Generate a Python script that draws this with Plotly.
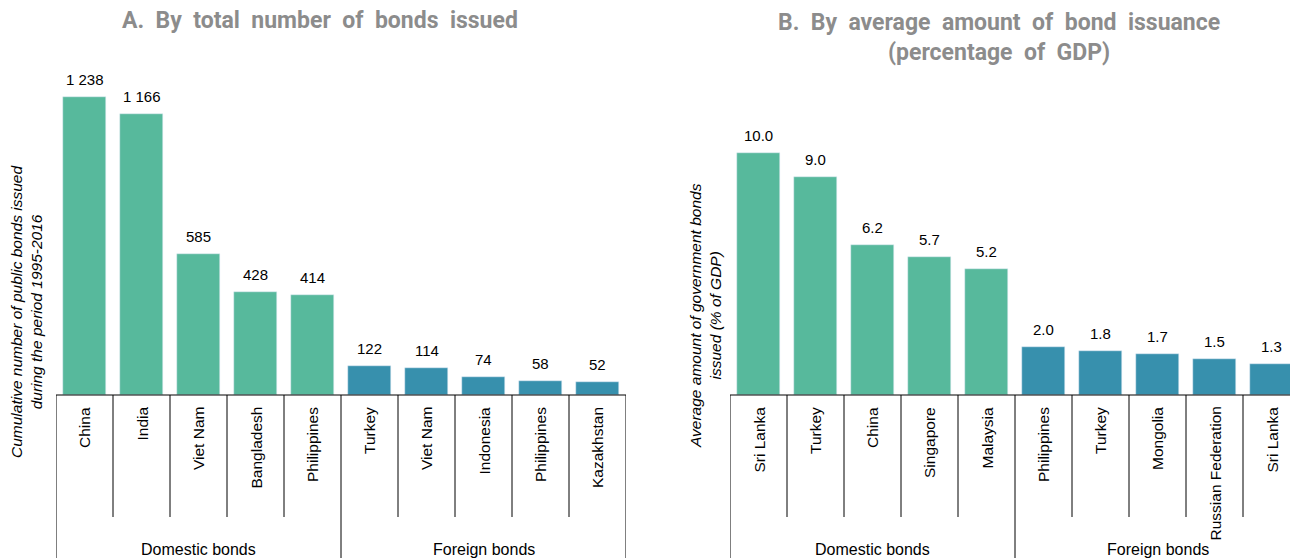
import plotly.graph_objects as go

# ---- data ----
a_countries = ["China", "India", "Viet Nam", "Bangladesh", "Philippines",
               "Turkey", "Viet Nam", "Indonesia", "Philippines", "Kazakhstan"]
a_values = [1238, 1166, 585, 428, 414, 122, 114, 74, 58, 52]
a_labels = ["1 238", "1 166", "585", "428", "414", "122", "114", "74", "58", "52"]

b_countries = ["Sri Lanka", "Turkey", "China", "Singapore", "Malaysia",
               "Philippines", "Turkey", "Mongolia", "Russian Federation", "Sri Lanka"]
b_values = [10.0, 9.0, 6.2, 5.7, 5.2, 2.0, 1.8, 1.7, 1.5, 1.3]
b_labels = ["10.0", "9.0", "6.2", "5.7", "5.2", "2.0", "1.8", "1.7", "1.5", "1.3"]

groups = ["Domestic bonds", "Foreign bonds"]
group_size = [5, 5]

# ---- layout constants (pixels) ----
W, H = 1290, 558
BASE_Y = 395          # baseline of the bars
CAT_W = 57            # width of one category slot
A_LEFT = 56
B_LEFT = 730
GREEN = "#57B99C"
TEAL = "#3790AD"
GREY_TITLE = "#8C8C8C"
TXT_FONT = "Liberation Sans, Arial, sans-serif"


def py(px):
    """pixel row -> paper y"""
    return (H - px) / H


def px_x(px):
    """pixel column -> paper x"""
    return px / W


def spaced(s):
    """widen the gaps between words of a title"""
    return "\u00a0 ".join(s.split(" "))


colors = [GREEN] * group_size[0] + [TEAL] * group_size[1]

fig = go.Figure()
fig.add_trace(go.Bar(x=list(range(len(a_values))), y=a_values, marker_color=colors,
                     width=0.75, xaxis="x", yaxis="y", hoverinfo="skip"))
fig.add_trace(go.Bar(x=list(range(len(b_values))), y=b_values, marker_color=colors,
                     width=0.75, xaxis="x2", yaxis="y2", hoverinfo="skip"))

n = len(a_values)
a_right = A_LEFT + CAT_W * n
b_range_end = -0.5 + (W - B_LEFT) / CAT_W

# y ranges chosen so the tallest bars reach their heights on the page
a_top_px = 97
b_top_px = 153
a_ymax = a_values[0] * BASE_Y / (BASE_Y - a_top_px)
b_ymax = b_values[0] * BASE_Y / (BASE_Y - b_top_px)

axis_common = dict(showgrid=False, zeroline=False, showticklabels=False,
                   ticks="", showline=False, fixedrange=True)
fig.update_layout(
    width=W, height=H, margin=dict(l=0, r=0, t=0, b=0),
    paper_bgcolor="white", plot_bgcolor="rgba(0,0,0,0)",
    showlegend=False, bargap=0,
    xaxis=dict(domain=[px_x(A_LEFT), px_x(a_right)], range=[-0.5, n - 0.5],
               anchor="y", **axis_common),
    yaxis=dict(domain=[py(BASE_Y), 1], range=[0, a_ymax], anchor="x", **axis_common),
    xaxis2=dict(domain=[px_x(B_LEFT), 1], range=[-0.5, b_range_end],
                anchor="y2", **axis_common),
    yaxis2=dict(domain=[py(BASE_Y), 1], range=[0, b_ymax], anchor="x2", **axis_common),
)

shapes = []
annotations = []
line = dict(color="black", width=1)
val_font = dict(family=TXT_FONT, size=15, color="black")
cat_font = dict(family=TXT_FONT, size=15.5, color="black")

for xa, ya, left, countries, values, labels in [
        ("x", "y", A_LEFT, a_countries, a_values, a_labels),
        ("x2", "y2", B_LEFT, b_countries, b_values, b_labels)]:
    # baseline
    shapes.append(dict(type="line", xref="paper", yref="paper",
                       x0=px_x(left), x1=px_x(left + CAT_W * n),
                       y0=py(BASE_Y), y1=py(BASE_Y), line=line))
    # separators between categories; group boundaries run to the bottom
    boundaries = {0, group_size[0], n}
    for k in range(n + 1):
        y_end = H if k in boundaries else 517
        shapes.append(dict(type="line", xref=xa, yref="paper",
                           x0=k - 0.5, x1=k - 0.5, y0=py(BASE_Y), y1=py(y_end), line=line))
    # value labels and category names
    for i, (c, v, t) in enumerate(zip(countries, values, labels)):
        annotations.append(dict(x=i, y=v, xref=xa, yref=ya, text=t, showarrow=False,
                                xanchor="center", yanchor="bottom", yshift=7, font=val_font))
        annotations.append(dict(x=i, y=py(405), xref=xa, yref="paper", text=c,
                                showarrow=False, textangle=-90, yanchor="top",
                                xanchor="center", font=cat_font))
    # group names
    start = 0
    for g, size in zip(groups, group_size):
        annotations.append(dict(x=start + (size - 1) / 2, y=py(549), xref=xa, yref="paper",
                                text=g, showarrow=False, xanchor="center", yanchor="middle",
                                font=dict(family=TXT_FONT, size=16, color="black")))
        start += size

# axis titles
annotations.append(dict(x=px_x(27), y=py(312), xref="paper", yref="paper",
                        text="<i>Cumulative number of public bonds issued<br>during the period 1995-2016</i>",
                        showarrow=False, textangle=-90, xanchor="center", yanchor="middle",
                        font=cat_font))
annotations.append(dict(x=px_x(705), y=py(316), xref="paper", yref="paper",
                        text="<i>Average amount of government bonds<br>issued (% of GDP)</i>",
                        showarrow=False, textangle=-90, xanchor="center", yanchor="middle",
                        font=cat_font))

# panel titles
title_font = dict(family="Roboto, sans-serif", size=23, color=GREY_TITLE)
annotations.append(dict(x=px_x(320), y=py(21), xref="paper", yref="paper",
                        text="<b>" + spaced("A. By total number of bonds issued") + "</b>",
                        showarrow=False, xanchor="center", yanchor="middle", font=title_font))
annotations.append(dict(x=px_x(999), y=py(37), xref="paper", yref="paper",
                        text="<b>" + spaced("B. By average amount of bond issuance") + "<br>"
                             + spaced("(percentage of GDP)") + "</b>",
                        showarrow=False, xanchor="center", yanchor="middle", font=title_font))

fig.update_layout(shapes=shapes, annotations=annotations)
fig.write_html("out.html")
